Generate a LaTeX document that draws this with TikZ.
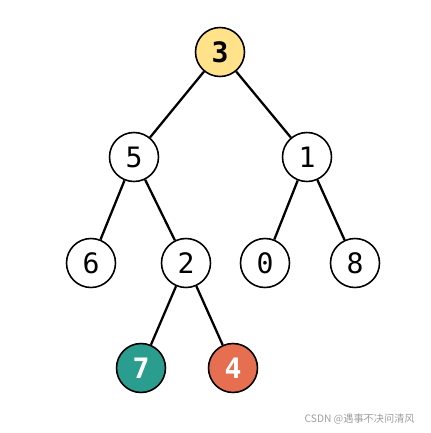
\documentclass[tikz,border=0pt]{standalone}
\usepackage{fontspec}
\usepackage{tikz}
\setmonofont{DejaVu Sans Mono}
\newfontfamily\cjk{Noto Sans CJK SC}
\definecolor{rootyellow}{RGB}{255,226,138}
\definecolor{leafteal}{RGB}{42,157,143}
\definecolor{leaforange}{RGB}{231,111,81}

\begin{document}
\begin{tikzpicture}[x=0.02cm,y=-0.02cm,
    treenode/.style={circle,draw=black,line width=0.9pt,fill=white,minimum size=0.98cm,inner sep=0pt,font=\ttfamily\fontsize{16}{16}\selectfont},
    edge/.style={line width=1.3pt}]
    \useasboundingbox (0,0) rectangle (431,433);
    % Radice
    \node[treenode,fill=rootyellow,font=\ttfamily\bfseries\fontsize{16}{16}\selectfont] (n3) at (220,52) {3};
    % Secondo livello
    \node[treenode] (n5) at (134,157) {5};
    \node[treenode] (n1) at (307,157) {1};
    % Terzo livello
    \node[treenode] (n6) at (91,263) {6};
    \node[treenode] (n2) at (186,263) {2};
    \node[treenode] (n0) at (265,263) {0};
    \node[treenode] (n8) at (355,263) {8};
    % Foglie colorate
    \node[treenode,fill=leafteal,text=white,font=\ttfamily\bfseries\fontsize{16}{16}\selectfont] (n7) at (141,368) {7};
    \node[treenode,fill=leaforange,text=white,font=\ttfamily\bfseries\fontsize{16}{16}\selectfont] (n4) at (233,368) {4};
    % Archi
    \foreach \a/\b in {n3/n5,n3/n1,n5/n6,n5/n2,n1/n0,n1/n8,n2/n7,n2/n4}
        \draw[edge] (\a) -- (\b);
    % Filigrana
    \node[anchor=east,text=black!38,font=\cjk\fontsize{5.8}{6}\selectfont,inner sep=0pt] (mark) at (415,419) {CSDN @遇事不决问清风};
\end{tikzpicture}
\end{document}
